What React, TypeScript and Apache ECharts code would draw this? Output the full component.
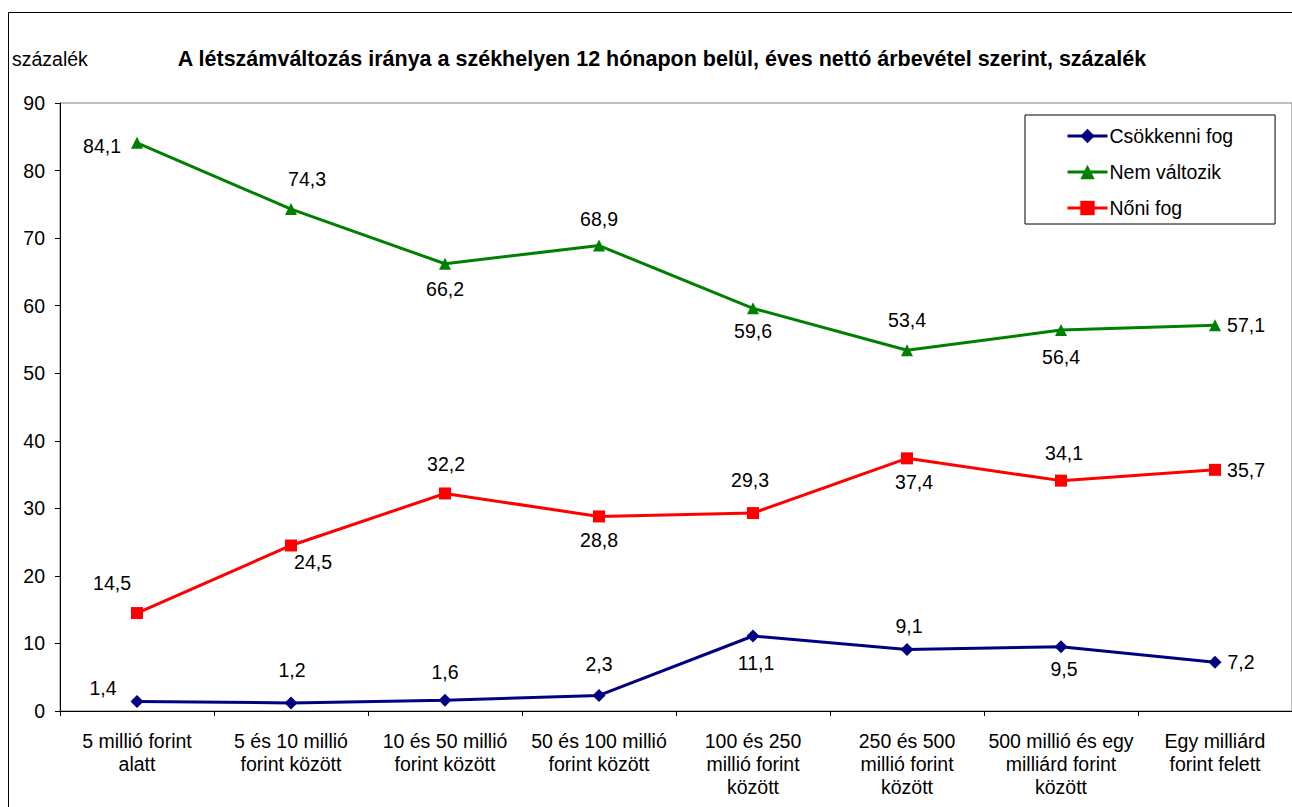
import React, { useEffect, useRef } from "react";
import * as echarts from "echarts";

const categories = [
  "5 millió forint\nalatt",
  "5 és 10 millió\nforint között",
  "10 és 50 millió\nforint között",
  "50 és 100 millió\nforint között",
  "100 és 250\nmillió forint\nközött",
  "250 és 500\nmillió forint\nközött",
  "500 millió és egy\nmilliárd forint\nközött",
  "Egy milliárd\nforint felett",
];

const csokkenni = [1.4, 1.2, 1.6, 2.3, 11.1, 9.1, 9.5, 7.2];
const nemValtozik = [84.1, 74.3, 66.2, 68.9, 59.6, 53.4, 56.4, 57.1];
const noni = [14.5, 24.5, 32.2, 28.8, 29.3, 37.4, 34.1, 35.7];

const seriesNames = ["Csökkenni fog", "Nem változik", "Nőni fog"];
const yTicks = { min: 0, max: 90, interval: 10 };

// label offsets (dx, dy) relative to each marker centre
const csokLabelOffsets = [[-34, -14], [1, -33], [0, -28], [0, -31], [3, 27], [2, -24], [3, 22], [26, 0]];
const nemLabelOffsets = [[-35, 3], [16, -30], [0, 25], [0, -27], [0, 23], [0, -30], [0, 27], [31, 0]];
const noniLabelOffsets = [[-25, -30], [22, 17], [1, -29], [0, 24], [-3, -33], [7, 24], [3, -28], [31, 0]];

const FONT = "'Liberation Sans', Arial, sans-serif";
const FS = 19.5;

const fmt = (v: number) => String(v).replace(".", ",");

function buildData(values: number[], offsets: number[][]) {
  return values.map((v, i) => ({
    value: v,
    label: { offset: offsets[i] },
  }));
}

export default function App() {
  const ref = useRef<HTMLDivElement>(null);
  useEffect(() => {
    if (!ref.current) return;
    const chart = echarts.init(ref.current, undefined, { renderer: "svg" });
    const labelBase = {
      show: true,
      position: "inside",
      color: "#000",
      fontSize: FS,
      fontFamily: FONT,
      align: "center",
      verticalAlign: "middle",
      formatter: (p: any) => fmt(p.value),
    };
    chart.setOption({
      animation: false,
      backgroundColor: "#fff",
      textStyle: { fontFamily: FONT },
      title: {
        text: "A létszámváltozás iránya a székhelyen 12 hónapon belül, éves nettó árbevétel szerint, százalék",
        left: 657,
        top: 43,
        textAlign: "center",
        textStyle: { fontSize: 21.5, fontWeight: "bold", color: "#000", fontFamily: FONT },
      },
      graphic: [
        {
          type: "rect",
          shape: { x: 8.5, y: 12.5, width: 1400, height: 900 },
          style: { fill: "none", stroke: "#000", lineWidth: 1 },
          silent: true,
        },
        {
          type: "text",
          left: 12,
          top: 49,
          style: { text: "százalék", fontSize: FS, fontFamily: FONT, fill: "#000" },
        },
      ],
      legend: {
        orient: "vertical",
        left: 1025,
        top: 115,
        padding: [10, 42, 5, 41],
        borderColor: "#000",
        borderWidth: 1,
        itemWidth: 40,
        itemHeight: 18,
        itemGap: 14,
        lineStyle: { width: 3 },
        textStyle: { fontSize: FS, fontFamily: FONT, color: "#000", lineHeight: 22, padding: [0, 0, 0, -3] },
        data: seriesNames,
      },
      grid: {
        left: 60,
        top: 103,
        width: 1234,
        height: 608,
        show: true,
        borderColor: "#808080",
        borderWidth: 1,
        backgroundColor: "transparent",
      },
      xAxis: {
        type: "category",
        data: categories,
        boundaryGap: true,
        axisLine: { lineStyle: { color: "#000", width: 1 } },
        axisTick: { show: true, length: 5, lineStyle: { color: "#000" } },
        axisLabel: {
          color: "#000",
          fontSize: FS,
          fontFamily: FONT,
          lineHeight: 23,
          margin: 18,
          interval: 0,
        },
        splitLine: { show: false },
      },
      yAxis: {
        type: "value",
        min: yTicks.min,
        max: yTicks.max,
        interval: yTicks.interval,
        axisLine: { show: true, lineStyle: { color: "#000", width: 1 } },
        axisTick: { show: true, length: 5, lineStyle: { color: "#000" } },
        axisLabel: { color: "#000", fontSize: FS, fontFamily: FONT, margin: 15 },
        splitLine: { show: false },
      },
      series: [
        {
          name: seriesNames[0],
          type: "line",
          data: buildData(csokkenni, csokLabelOffsets),
          symbol: "diamond",
          symbolSize: 13,
          color: "#000080",
          lineStyle: { width: 3, color: "#000080" },
          itemStyle: { color: "#000080" },
          label: labelBase,
          z: 3,
        },
        {
          name: seriesNames[1],
          type: "line",
          data: buildData(nemValtozik, nemLabelOffsets),
          symbol: "triangle",
          symbolSize: 12,
          color: "#008000",
          lineStyle: { width: 3, color: "#008000" },
          itemStyle: { color: "#008000" },
          label: labelBase,
          z: 3,
        },
        {
          name: seriesNames[2],
          type: "line",
          data: buildData(noni, noniLabelOffsets),
          symbol: "rect",
          symbolSize: 12,
          color: "#FF0000",
          lineStyle: { width: 3, color: "#FF0000" },
          itemStyle: { color: "#FF0000" },
          label: labelBase,
          z: 3,
        },
      ],
    });
    return () => chart.dispose();
  }, []);
  return (
    <div
      ref={ref}
      style={{ position: "absolute", left: 0, top: 0, width: 1292, height: 807 }}
    />
  );
}
